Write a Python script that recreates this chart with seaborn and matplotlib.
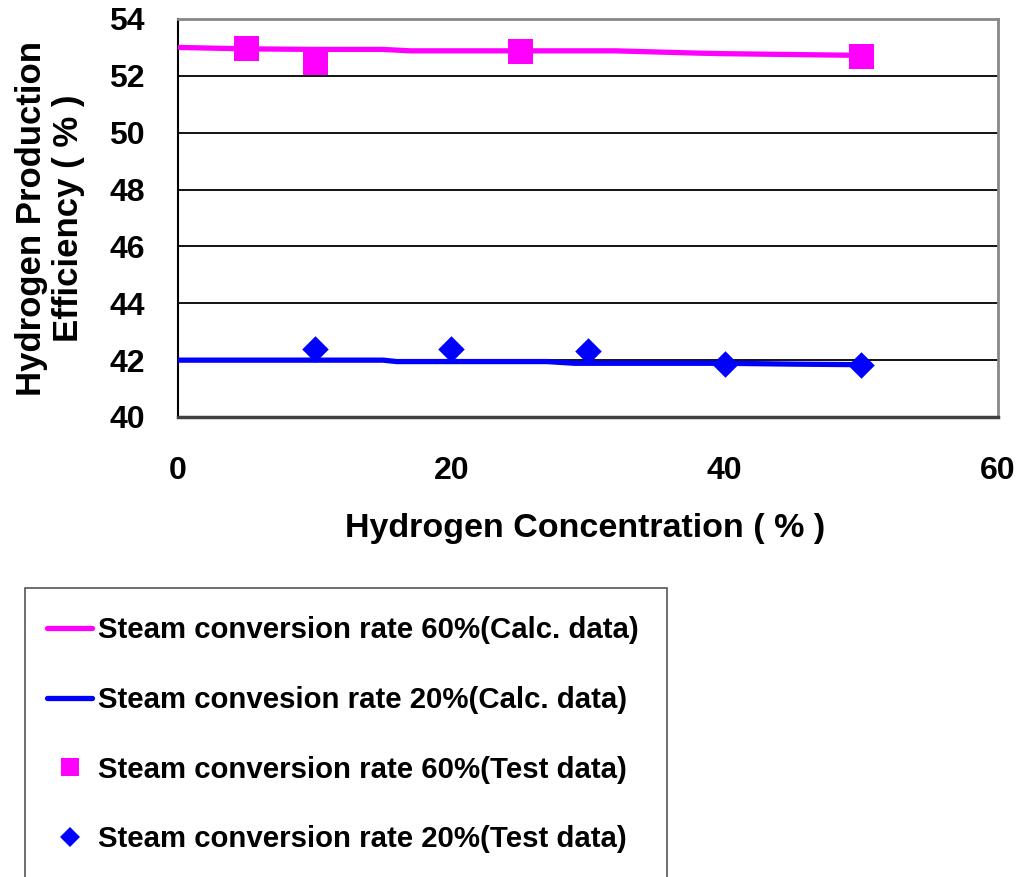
import matplotlib
matplotlib.use("Agg")
import matplotlib.pyplot as plt
import seaborn as sns
import pandas as pd
from matplotlib.patches import Rectangle
from matplotlib.lines import Line2D

# ---- data ----
calc_x = [0, 5, 10, 15, 17, 20, 25, 30, 32, 38, 40, 45, 50]
calc60_y = [53.0, 52.95, 52.93, 52.93, 52.88, 52.88, 52.88, 52.88, 52.88, 52.80, 52.78, 52.75, 52.72]
calc20_x = [0, 5, 10, 15, 16, 20, 25, 27, 29, 35, 40, 45, 50]
calc20_y = [42.0, 42.0, 42.0, 42.0, 41.95, 41.95, 41.95, 41.95, 41.89, 41.89, 41.89, 41.86, 41.84]
test60_x = [5, 10, 25, 50]
test60_y = [52.97, 52.47, 52.89, 52.70]
test20_x = [10, 20, 30, 40, 50]
test20_y = [42.39, 42.39, 42.33, 41.88, 41.83]

labels = ["Steam conversion rate 60%(Calc. data)",
          "Steam convesion rate 20%(Calc. data)",
          "Steam conversion rate 60%(Test data)",
          "Steam conversion rate 20%(Test data)"]
x_ticks = [0, 20, 40, 60]
y_ticks = [40, 42, 44, 46, 48, 50, 52, 54]

sns.set_style("white")
plt.rcParams['font.family'] = ['Liberation Sans', 'DejaVu Sans']
plt.rcParams['font.weight'] = 'bold'
plt.rcParams['text.color'] = 'black'
plt.rcParams['axes.labelcolor'] = 'black'
plt.rcParams['xtick.labelcolor'] = 'black'
plt.rcParams['ytick.labelcolor'] = 'black'

MAG = "#ff00ff"
BLU = "#0000ff"

W, H = 1021, 877
fig = plt.figure(figsize=(W / 100, H / 100), dpi=100)
ax = fig.add_axes([178 / W, 1 - 417 / H, (998 - 178) / W, (417 - 19) / H])

df60 = pd.DataFrame({"x": calc_x, "y": calc60_y})
df20 = pd.DataFrame({"x": calc20_x, "y": calc20_y})
dt60 = pd.DataFrame({"x": test60_x, "y": test60_y})
dt20 = pd.DataFrame({"x": test20_x, "y": test20_y})

sns.lineplot(data=df60, x="x", y="y", ax=ax, color=MAG, lw=3.8, zorder=3)
sns.lineplot(data=df20, x="x", y="y", ax=ax, color=BLU, lw=3.8, zorder=3)
sns.scatterplot(data=dt60, x="x", y="y", ax=ax, color=MAG, marker="s", s=18**2,
                linewidth=0, zorder=4)
sns.scatterplot(data=dt20, x="x", y="y", ax=ax, color=BLU, marker="D", s=13.5**2,
                linewidth=0, zorder=4)

ax.set_xlim(0, 60)
ax.set_ylim(40, 54)
ax.set_xticks(x_ticks)
ax.set_yticks(y_ticks)
ax.set_xticklabels([str(v) for v in x_ticks], fontsize=23, fontweight='bold', color='black')
ax.set_yticklabels([str(v) for v in y_ticks], fontsize=23, fontweight='bold', color='black')
ax.yaxis.grid(True, color='black', lw=1.3)
ax.xaxis.grid(False)
ax.tick_params(axis='x', direction='in', length=12, width=1.2, color='#444444', pad=28)
ax.tick_params(axis='y', length=0, pad=24)

ax.spines['left'].set_color('black')
ax.spines['left'].set_linewidth(1.5)
ax.spines['top'].set_color('#888888')
ax.spines['top'].set_linewidth(2)
ax.spines['right'].set_color('#888888')
ax.spines['right'].set_linewidth(2)
ax.spines['bottom'].set_color('#404040')
ax.spines['bottom'].set_linewidth(2.5)

ax.set_xlabel("Hydrogen Concentration ( % )", fontsize=24.5, fontweight='bold', color='black')
ax.xaxis.set_label_coords(0.496, -0.24)
ax.set_ylabel("Hydrogen Production\nEfficiency ( % )", fontsize=25, fontweight='bold',
              linespacing=1.15, color='black')
ax.yaxis.set_label_coords(-0.113, 0.5)

# legend box
fig.patches.append(Rectangle((25 / W, -0.01), (667 - 25) / W, 1 - 588 / H + 0.01,
                             transform=fig.transFigure, fill=False,
                             edgecolor='#555555', lw=1.2))
handles = [Line2D([], [], color=MAG, lw=3.8),
           Line2D([], [], color=BLU, lw=3.8),
           Line2D([], [], color=MAG, marker='s', ls='none', ms=13, mew=0),
           Line2D([], [], color=BLU, marker='D', ms=10, ls='none', mew=0)]
fig.legend(handles, labels, loc='upper left', bbox_to_anchor=(47 / W, 1 - 616 / H),
           frameon=False, prop={'weight': 'bold', 'size': 21.2},
           handlelength=1.53, handletextpad=0.2, labelspacing=1.42,
           borderaxespad=0, borderpad=0)

fig.savefig("out.png", dpi=100)
